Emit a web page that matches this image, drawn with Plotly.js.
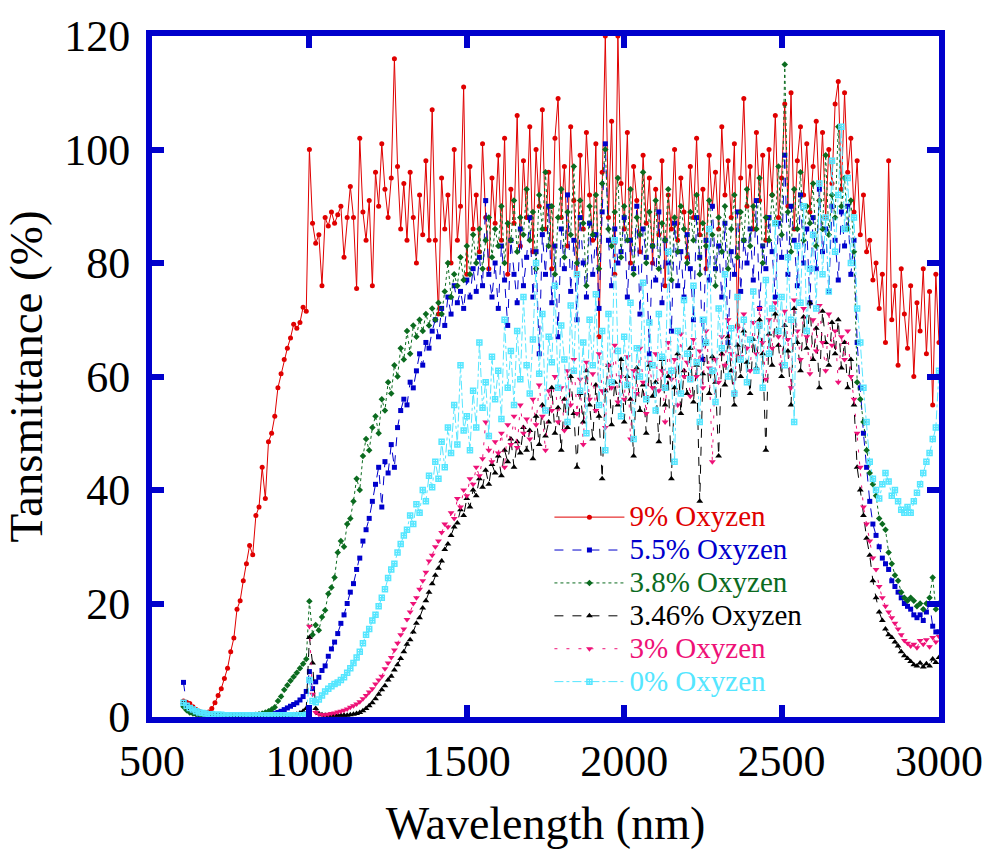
<!DOCTYPE html>
<html>
<head>
<meta charset="utf-8">
<script src="https://cdn.plot.ly/plotly-3.0.1.min.js"></script>
<style>
html,body{margin:0;padding:0;background:#fff;}
#chart{width:984px;height:854px;}
</style>
</head>
<body>
<div id="chart"></div>
<script>
const wavelength = [
600,610,620,630,640,650,660,670,680,690,
700,710,720,730,740,750,760,770,780,790,
800,810,820,830,840,850,860,870,880,890,
900,910,920,930,940,950,960,970,980,990,
1000,1010,1020,1030,1040,1050,1060,1070,1080,1090,
1100,1110,1120,1130,1140,1150,1160,1170,1180,1190,
1200,1210,1220,1230,1240,1250,1260,1270,1280,1290,
1300,1310,1320,1330,1340,1350,1360,1370,1380,1390,
1400,1410,1420,1430,1440,1450,1460,1470,1480,1490,
1500,1510,1520,1530,1540,1550,1560,1570,1580,1590,
1600,1610,1620,1630,1640,1650,1660,1670,1680,1690,
1700,1710,1720,1730,1740,1750,1760,1770,1780,1790,
1800,1810,1820,1830,1840,1850,1860,1870,1880,1890,
1900,1910,1920,1930,1940,1950,1960,1970,1980,1990,
2000,2010,2020,2030,2040,2050,2060,2070,2080,2090,
2100,2110,2120,2130,2140,2150,2160,2170,2180,2190,
2200,2210,2220,2230,2240,2250,2260,2270,2280,2290,
2300,2310,2320,2330,2340,2350,2360,2370,2380,2390,
2400,2410,2420,2430,2440,2450,2460,2470,2480,2490,
2500,2510,2520,2530,2540,2550,2560,2570,2580,2590,
2600,2610,2620,2630,2640,2650,2660,2670,2680,2690,
2700,2710,2720,2730,2740,2750,2760,2770,2780,2790,
2800,2810,2820,2830,2840,2850,2860,2870,2880,2890,
2900,2910,2920,2930,2940,2950,2960,2970,2980,2990,
3000,3010];

const oxy9 = [
2.8,2.6,2.4,1.8,1.3,1.0,0.8,0.7,0.9,1.5,
2.5,3.8,5.0,6.8,8.6,11.5,13.9,19.0,20.5,24.0,
27.0,30.2,28.6,35.5,37.0,44.0,38.5,48.5,50.0,53.0,
58.0,60.5,63.0,65.0,66.8,69.2,68.5,69.5,72.2,71.5,
100,87,83.5,85,76,88,86.5,89,87,88.5,
90,81,88,93.5,88,75.5,102,89,84,91,
76,96,90,101,93,88,95,116,97,86,
94,84,96,88,80,92,85,98,84,107,
84,71,95,86,92,80,100,84,90,111,
78,97,86,92,82,101,88,79,95,87,
99,84,102,78,93,87,106,83,98,88,
104,82,100,90,107,86,96,79,102,109,
88,97,83,104,91,78,99,86,103,92,
84,101,67,96,120,88,105,78,120,94,
86,103,80,97,91,82,99,87,95,80,
93,85,98,76,92,86,100,84,95,89,
81,97,88,102,85,93,79,99,90,96,
86,104,92,98,88,101,69,95,109,90,
97,86,103,91,99,84,100,92,106,88,
95,108,90,110,86,98,104,92,101,89,
97,105,91,103,88,100,94,108,112,93,
110,96,102,89,98,85,92,82,84,77,
80,72,78,66,98,70,76,62,79,71,
65,76,60,73,68,79,64,75,55,78,
66,70];

const oxy5_5 = [
6.1,2.0,1.2,0.8,0.6,0.5,0.4,0.3,0.3,0.3,
0.3,0.3,0.3,0.3,0.3,0.3,0.3,0.3,0.3,0.3,
0.3,0.3,0.3,0.3,0.3,0.3,0.4,0.4,0.5,0.6,
0.8,1.0,1.3,1.6,1.9,2.2,2.5,3.0,3.6,4.5,
8.0,5.0,6.2,7.0,8.2,9.0,10.7,12.0,13.2,14.7,
16.5,18,20,22,23.5,26,28,31,33,35,
38,41,44,37,45,43,48,44,51,54,
56,55,59,58,61,64,62,66,65,68,
70,67,72,69,74,71,76,73,75,72,
77,74,79,75,81,76,91,78,74,80,
72,83,77,69,84,78,73,86,76,81,
88,74,82,64,85,78,90,73,83,67,
86,79,92,75,84,70,88,80,74,87,
78,85,72,89,101,84,76,86,80,82,
88,74,84,79,90,71,86,81,64,83,
77,89,73,84,80,68,87,76,82,74,
85,79,70,88,81,63,84,77,90,79,
83,74,87,66,82,78,89,75,84,80,
86,77,91,72,83,79,88,82,74,87,
81,99,78,90,84,76,92,80,86,73,
88,79,93,82,86,75,90,84,77,89,
83,90,78,84,66,58,50,44,38,34,
32,30,28,27,26,24,23,22,21,20,
19.5,19,18,17.5,18,17,18.5,20,16,15,
15,18];

const oxy3_8 = [
1.8,1.2,0.8,0.6,0.5,0.4,0.3,0.3,0.3,0.3,
0.3,0.3,0.3,0.3,0.3,0.3,0.3,0.3,0.3,0.3,
0.3,0.3,0.3,0.4,0.5,0.6,0.8,1.0,1.3,1.7,
2.8,3.6,4.8,5.6,6.4,7.1,7.8,8.6,9.4,10.2,
20.4,14.5,16.2,15.3,17.6,18.8,21.7,22.8,24.6,29.0,
31,30,34,35,38,42,40,46,49,47,
51,53,50,56,54,59,57,62,60,65,
63,68,64,69,67,70,68,71,69,72,
70,73,71,75,80,74,78,76,81,77,
83,78,85,80,86,79,84,88,81,86,
83,90,80,87,84,91,82,88,85,93,
84,89,79,92,86,96,83,90,78,88,
93,81,89,85,97,80,91,87,76,90,
85,92,79,94,100,86,83,89,95,81,
90,84,93,78,88,85,96,80,89,83,
91,79,87,84,93,77,88,82,90,86,
80,89,84,92,78,87,83,91,85,76,
88,82,90,79,86,92,81,89,84,93,
83,90,86,95,80,88,84,92,87,97,
85,115,89,82,93,86,96,84,90,87,
94,83,91,86,99,85,92,88,104,90,
95,86,91,82,59,56,52,47,43,41,
39,35,34,33,29,27,25,24,22,21,
20.5,21,20.5,19.5,20,19,20,21,24.6,19,
20,22];

const oxy3_46 = [
2.5,1.8,1.3,1.0,0.8,0.6,0.5,0.4,0.3,0.3,
0.3,0.3,0.3,0.3,0.3,0.3,0.3,0.3,0.3,0.3,
0.3,0.3,0.3,0.3,0.3,0.3,0.3,0.3,0.3,0.3,
0.3,0.3,0.3,0.3,0.3,0.4,0.5,0.7,1.0,1.5,
14,9.5,1.5,0.6,0.4,0.3,0.3,0.3,0.3,0.3,
0.3,0.3,0.3,0.4,0.5,0.6,0.8,1.1,1.5,2.0,
2.5,3.2,4.0,4.8,5.5,6.5,7.2,8.3,9.2,10.3,
11.5,12.8,13.6,15.0,16.5,17.5,19.2,20.5,22.0,23.5,
25.0,26.2,27.5,29.5,30.5,32.0,33.5,34.2,36.5,35.5,
38.5,37.0,40.0,39.0,42.0,40.5,43.5,41.0,44.5,43.0,
46.0,42.5,47.0,45.0,49.0,44.0,48.5,46.5,51.0,47.0,
50.5,45.5,53.0,48.0,55.0,49.5,52.0,58.0,50.0,54.5,
47.0,56.0,51.0,60.0,53.5,44.0,57.0,52.0,61.0,55.0,
49.0,58.5,53.0,42.0,57.5,62.0,51.5,59.0,55.0,63.0,
52.0,60.0,56.0,46.0,61.5,54.0,58.5,50.0,62.0,56.5,
59.0,48.5,63.0,55.0,60.0,42.0,58.0,64.0,53.5,61.0,
57.0,65.0,55.5,62.0,38.0,60.5,66.0,57.0,63.5,59.0,
46.0,64.0,58.5,67.0,61.0,55.0,65.5,60.0,68.0,62.5,
57.0,66.5,61.5,70.0,64.0,47.0,67.5,62.0,71.0,65.5,
60.0,69.0,64.5,55.0,72.0,66.0,61.0,70.5,65.0,73.0,
63.0,68.5,58.0,71.5,66.0,62.0,69.5,64.0,70.0,61.5,
66.0,58.0,63.0,55.0,44.0,40.0,35.5,31.5,28.5,24.0,
21,18.5,17,15.5,14.5,14,13.2,12.5,11.5,10.8,
10.3,9.8,9.2,9.0,9.5,8.8,9.4,9.0,10.2,9.6,
10.5,9.8];

const oxy3 = [
null,null,null,null,null,null,null,null,null,null,
null,null,null,null,null,null,null,null,null,null,
null,null,null,null,null,null,null,null,null,null,
null,null,null,null,null,null,null,null,null,null,
16,4.0,0.8,0.5,0.4,0.4,0.5,0.6,0.7,0.9,
1.0,1.2,1.4,1.7,2.0,2.3,2.7,3.2,3.8,4.4,
5.0,5.8,6.5,7.2,8.5,9.5,10.5,11.8,13.0,14.5,
15.5,17.2,18.5,20.0,21.0,22.5,24.0,25.5,27.5,28.5,
30.0,31.0,32.5,34.0,33.5,36.0,35.0,38.5,37.0,40.0,
39.0,42.0,41.0,44.0,42.5,45.5,52.0,47.0,45.0,48.5,
46.5,50.0,44.0,51.5,48.0,53.0,47.5,55.0,50.0,52.5,
49.0,56.0,51.5,58.5,53.0,47.0,57.5,54.0,60.0,52.0,
58.0,50.5,61.0,55.0,63.0,53.5,59.5,48.0,62.5,56.0,
60.5,54.0,64.0,57.5,51.0,62.0,58.0,65.5,55.5,60.0,
56.0,63.5,49.0,61.0,57.0,65.0,59.0,53.5,62.5,58.0,
64.0,57.5,61.0,52.0,66.0,59.5,63.0,55.0,67.5,60.0,
62.5,56.5,66.5,60.0,64.5,58.0,68.0,61.5,45.0,63.0,
59.0,67.0,62.0,70.0,64.0,57.0,68.5,63.5,71.0,65.0,
61.0,69.5,64.0,72.0,66.0,59.5,70.0,65.0,73.0,67.0,
62.0,71.5,66.5,58.0,73.5,68.0,63.0,72.0,67.0,60.5,
70.0,64.5,72.5,66.0,61.0,71.0,65.5,68.0,59.0,67.0,
63.0,68.0,60.0,56.0,50.0,44.0,37.0,34.0,31.0,28.0,
26,23,21,19.5,18.5,17.5,16.5,15.5,14.5,13.5,
13,12.5,12.8,12.2,13.5,12.8,13.6,12.4,14.0,13.2,
14.2,13.0];

const oxy0 = [
2.5,2.0,1.6,1.3,1.0,0.8,0.7,0.6,0.5,0.5,
0.4,0.4,0.4,0.3,0.3,0.3,0.3,0.3,0.3,0.3,
0.3,0.3,0.3,0.3,0.3,0.3,0.3,0.3,0.3,0.3,
0.3,0.3,0.3,0.3,0.3,0.3,0.3,0.3,0.3,0.4,
6.5,2.8,2.6,3.1,3.8,4.5,5.0,5.4,5.8,6.1,
6.5,7.0,7.8,8.6,9.5,10.5,11.5,13.0,14.5,15.5,
17.0,18.0,19.5,21.0,22.5,24.5,26.0,27.0,29.0,30.5,
32.0,33.0,35.5,34.0,37.5,36.0,40.0,38.0,42.5,40.5,
45.0,42.0,48.5,44.0,51.0,46.5,55.0,48.0,62.0,50.5,
53.0,47.0,57.5,51.0,66.0,54.5,59.0,49.5,63.5,56.0,
61.0,52.5,70.0,58.0,64.5,55.0,68.0,59.5,74.0,62.0,
57.0,66.5,80.0,60.5,71.0,54.0,67.0,62.5,76.0,58.0,
69.0,63.0,52.0,72.5,61.0,78.0,57.5,66.0,50.0,70.0,
62.0,74.5,55.0,68.0,47.0,71.0,59.0,84.0,64.5,53.0,
67.0,58.5,73.0,49.0,65.0,60.0,76.5,56.0,69.5,62.0,
54.0,71.0,63.5,58.0,82.0,61.0,45.0,68.0,57.0,73.5,
64.0,59.5,76.0,62.5,52.0,70.0,66.0,86.0,61.0,55.5,
72.0,65.0,78.0,60.0,68.5,57.0,74.0,63.0,70.0,59.0,
66.5,75.0,61.0,69.0,58.0,77.0,64.0,72.0,87.0,68.0,
74.0,62.0,81.0,70.0,52.0,83.0,73.0,90.0,68.0,79.0,
85.0,72.0,94.0,78.0,88.0,75.0,98.0,82.0,92.0,104.0,
86.0,95.0,80.0,88.0,72.0,66.0,58.0,52.0,45.0,42.0,
40,38.5,41,43,41.5,39,40,38,36.5,36,
37,36,38,39.5,41,43,45,46.5,49,51,
61,53];

const seriesNames = ["9% Oxyzen","5.5% Oxyzen","3.8% Oxyzen","3.46% Oxyzen","3% Oxyzen","0% Oxyzen"];
const seriesValues = [oxy9, oxy5_5, oxy3_8, oxy3_46, oxy3, oxy0];
const xTickValues = [500,1000,1500,2000,2500,3000];
const yTickValues = [0,20,40,60,80,100,120];

const styles = [
  {color:'#e00000', dash:'solid', symbol:'circle', size:5},
  {color:'#0000cc', dash:'dash', symbol:'square', size:5},
  {color:'#0b6b1f', dash:'dot', symbol:'diamond', size:5},
  {color:'#000000', dash:'dash', symbol:'triangle-up', size:6},
  {color:'#ee1177', dash:'3px,9px', symbol:'triangle-down', size:6},
  {color:'#55e6ff', dash:'dashdot', symbol:'square-cross-open', size:5}
];

const serif = 'Liberation Serif, Times New Roman, serif';

const traces = seriesValues.map((vals, i) => ({
  x: wavelength,
  y: vals,
  type: 'scatter',
  mode: 'lines+markers',
  name: '<span style="color:' + styles[i].color + ';font-size:29px">' + seriesNames[i] + '</span>',
  line: {color: styles[i].color, width: 1, dash: styles[i].dash},
  marker: {color: styles[i].color, symbol: styles[i].symbol, size: styles[i].size,
           line: {color: styles[i].color, width: styles[i].symbol === 'square-cross-open' ? 1.5 : 0}},
  connectgaps: false
}));

const axisCommon = {
  showline: true, linewidth: 6, linecolor: '#0000cc', mirror: 'ticks',
  ticks: 'inside', ticklen: 12, tickwidth: 6, tickcolor: '#0000cc',
  showgrid: false, zeroline: false,
  tickfont: {family: serif, size: 44, color: '#000'}
};

const layout = {
  width: 984, height: 854,
  margin: {l: 152, r: 45, t: 36, b: 137},
  paper_bgcolor: '#fff', plot_bgcolor: '#fff',
  showlegend: true,
  legend: {
    x: 0.505, y: 0.325, xanchor: 'left', yanchor: 'top',
    bgcolor: 'rgba(0,0,0,0)', borderwidth: 0,
    itemwidth: 70,
    font: {family: serif, size: 23, color: '#000'},
    tracegroupgap: 0
  },
  xaxis: Object.assign({}, axisCommon, {
    range: [500, 3000], tickvals: xTickValues, ticktext: xTickValues.map(String),
    title: {text: 'Wavelength (nm)', standoff: 24,
            font: {family: serif, size: 46, color: '#000'}}
  }),
  yaxis: Object.assign({}, axisCommon, {
    range: [0, 120], tickvals: yTickValues, ticktext: yTickValues.map(String),
    ticklabelstandoff: 7,
    title: {text: 'Tansmittance (%)', standoff: 12,
            font: {family: serif, size: 47, color: '#000'}}
  })
};

Plotly.newPlot('chart', traces, layout, {displayModeBar: false, staticPlot: true});
</script>
</body>
</html>
